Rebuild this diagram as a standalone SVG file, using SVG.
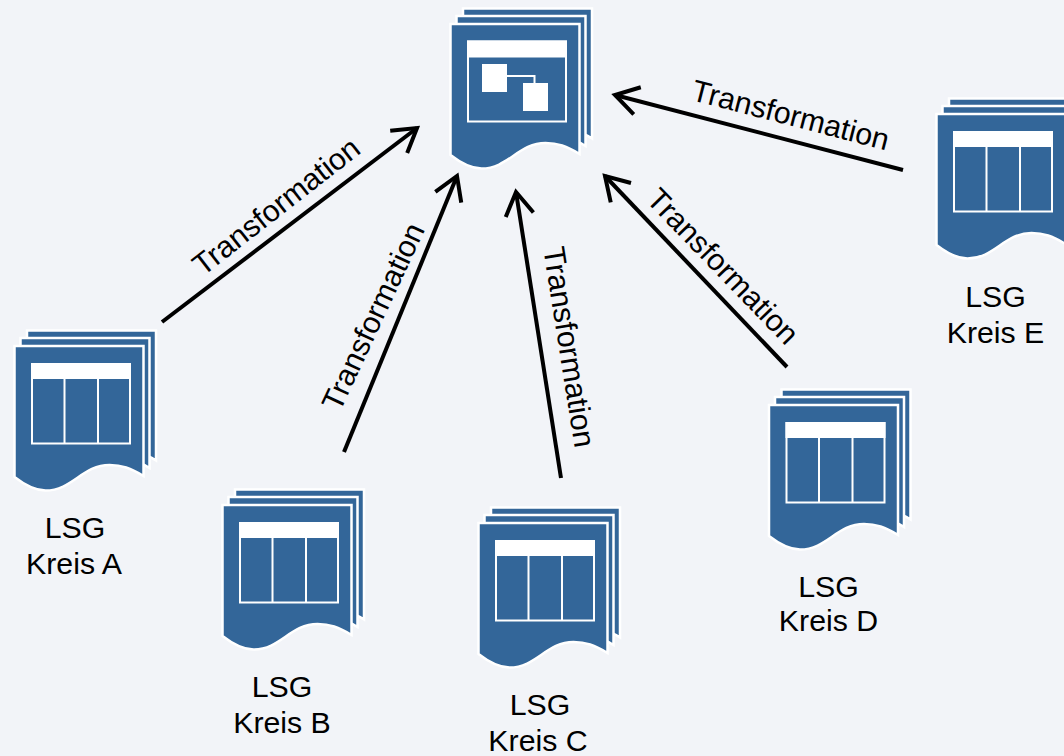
<svg xmlns="http://www.w3.org/2000/svg" width="1064" height="756" viewBox="0 0 1064 756">
<style>
.doc{fill:#336699;stroke:#fff;stroke-width:2.5}
.w{fill:#fff}
.l{fill:none;stroke:#fff;stroke-width:2}
.t{font-family:"Liberation Sans",Arial,sans-serif;font-size:30.300px;fill:#000;text-anchor:middle}
.c line{stroke:#000;stroke-width:4;marker-end:url(#a)}
</style>
<defs>
<marker id="a" markerUnits="userSpaceOnUse" markerWidth="34" markerHeight="34" refX="27" refY="15" orient="auto" overflow="visible"><path d="M4 1L27 15L4 29" fill="none" stroke="#000" stroke-width="4"/></marker>
<path id="p" d="M0 0H129V130C116 122 107 119 95 119C68 119 58 144.500 31 144.500C19 144.500 9 138 0 131Z"/>
<g id="stack">
<use href="#p" class="doc" x="12.500" y="-15.500"/>
<use href="#p" class="doc" x="6" y="-8"/>
<use href="#p" class="doc"/>
</g>
<g id="tbl">
<use href="#stack"/>
<rect class="w" x="16.500" y="17" width="100" height="16"/>
<rect class="l" x="17.500" y="18" width="98" height="79.500"/>
<path class="l" d="M50 33V97M83.500 33V97"/>
</g>
</defs>
<rect width="1064" height="756" fill="#f2f4f8"/>
<g class="c" id="connectors">
<line x1="162" y1="322" x2="417" y2="128"/>
<line x1="344" y1="452" x2="457" y2="176"/>
<line x1="561" y1="478" x2="516" y2="192"/>
<line x1="787" y1="367" x2="605" y2="176"/>
<line x1="903" y1="170" x2="615" y2="95"/>
</g>
<g id="central" transform="translate(450.500 24)">
<use href="#stack"/>
<rect class="w" x="16.500" y="16.500" width="100" height="17"/>
<rect class="l" x="17.500" y="17.500" width="98" height="80"/>
<rect class="w" x="31.500" y="40" width="25" height="28"/>
<rect class="w" x="72.500" y="59" width="25" height="28"/>
<path class="l" d="M56 52H84V59"/>
</g>
<g id="kreis-a"><use href="#tbl" x="14.500" y="346"/><text class="t" x="75" y="538">LSG</text><text class="t" x="74" y="574">Kreis A</text></g>
<g id="kreis-b"><use href="#tbl" x="222.500" y="505"/><text class="t" x="282" y="697">LSG</text><text class="t" x="282" y="733">Kreis B</text></g>
<g id="kreis-c"><use href="#tbl" x="478.500" y="523"/><text class="t" x="540" y="715">LSG</text><text class="t" x="538" y="751">Kreis C</text></g>
<g id="kreis-d"><use href="#tbl" x="769" y="405"/><text class="t" x="828.500" y="597">LSG</text><text class="t" x="828.500" y="631">Kreis D</text></g>
<g id="kreis-e"><use href="#tbl" x="936.500" y="114"/><text class="t" x="995.500" y="307">LSG</text><text class="t" x="995.500" y="343">Kreis E</text></g>
<g id="labels">
<text class="t" transform="translate(382.500 321) rotate(-65)">Transformation</text>
<text class="t" transform="translate(282.500 214.500) rotate(-38)">Transformation</text>
<text class="t" transform="translate(559 348.500) rotate(81)">Transformation</text>
<text class="t" transform="translate(715.500 273.500) rotate(46)">Transformation</text>
<text class="t" transform="translate(788 125) rotate(14.500)">Transformation</text>
</g>
</svg>
